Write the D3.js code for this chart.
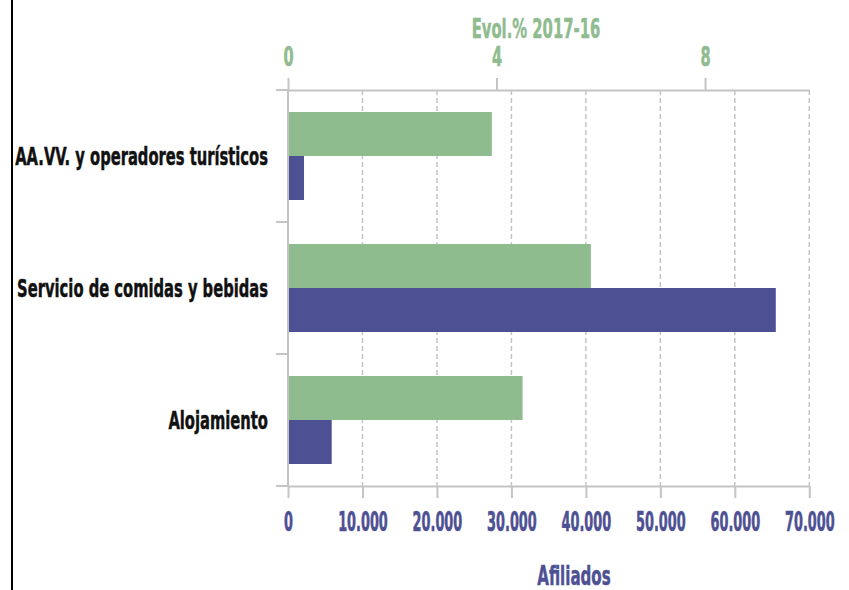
<!DOCTYPE html>
<html>
<head>
<meta charset="utf-8">
<script src="https://cdn.jsdelivr.net/npm/d3@7"></script>
<style>
  html, body { margin: 0; padding: 0; background: #fff; }
  svg { display: block; }
  text { font-family: "DejaVu Sans Condensed", "Liberation Sans Narrow", "Liberation Sans", sans-serif; font-weight: bold; }
</style>
</head>
<body>
<svg id="chart" width="849" height="590"></svg>
<script>
const categories = ["AA.VV. y operadores turísticos", "Servicio de comidas y bebidas", "Alojamiento"];
const evolValues = [3.91, 5.81, 4.50];
const afiliadosValues = [2150, 65500, 5870];
const evolTicks = [0, 4, 8];
const afiliadosTicks = [0, 10000, 20000, 30000, 40000, 50000, 60000, 70000];
const evolTitle = "Evol.% 2017-16";
const afiliadosTitle = "Afiliados";

(function () {
const GREEN = "#8fbc8f";
const PURPLE = "#4e5094";
const AXIS = "#c4c4c4";

const svg = d3.select("#chart");
const pLeft = 288, pRight = 809.3, pTop = 90, pBottom = 486;

const xAfil = d3.scaleLinear().domain([0, 70000]).range([pLeft, pRight]);
const xEvol = d3.scaleLinear().domain([0, 10]).range([pLeft, pRight]);
const y = d3.scaleBand().domain(categories).range([pTop, pBottom]).padding(0);
const ySub = d3.scaleBand().domain(["evol", "afil"]).range([0, y.bandwidth()]).paddingInner(0).paddingOuter(0.5);

const loc = d3.formatLocale({decimal: ",", thousands: ".", grouping: [3], currency: ["", ""]});
const fmt = loc.format(",d");

// horizontal condensing about the text's own x anchor
function condense(k) {
  return function (sel) {
    sel.each(function () {
      const t = d3.select(this);
      const x = +t.attr("x") || 0;
      t.attr("x", x / k).attr("transform", `scale(${k},1)`);
    });
  };
}

// left border
svg.append("line").attr("x1", 12).attr("x2", 12).attr("y1", 0).attr("y2", 590)
  .attr("stroke", "#000").attr("stroke-width", 2);

// gridlines
svg.append("g").selectAll("line").data(afiliadosTicks.filter(d => d > 0)).join("line")
  .attr("x1", d => xAfil(d)).attr("x2", d => xAfil(d))
  .attr("y1", pTop).attr("y2", pBottom)
  .attr("stroke", AXIS).attr("stroke-width", 1.5).attr("stroke-dasharray", "5,3");

// bars
const groups = svg.append("g").selectAll("g").data(categories).join("g")
  .attr("transform", d => `translate(0,${y(d)})`);
groups.append("rect")
  .attr("x", xEvol(0)).attr("y", ySub("evol"))
  .attr("width", (d, i) => xEvol(evolValues[i]) - xEvol(0))
  .attr("height", ySub.bandwidth()).attr("fill", GREEN);
groups.append("rect")
  .attr("x", xAfil(0)).attr("y", ySub("afil"))
  .attr("width", (d, i) => xAfil(afiliadosValues[i]) - xAfil(0))
  .attr("height", ySub.bandwidth()).attr("fill", PURPLE);

// left axis line + boundary ticks
svg.append("line").attr("x1", pLeft).attr("x2", pLeft).attr("y1", pTop).attr("y2", pBottom)
  .attr("stroke", AXIS).attr("stroke-width", 2);
const bounds = categories.map(c => y(c)).concat([pBottom]);
svg.append("g").selectAll("line").data(bounds).join("line")
  .attr("x1", pLeft - 12).attr("x2", pLeft).attr("y1", d => d).attr("y2", d => d)
  .attr("stroke", AXIS).attr("stroke-width", 2);

// category labels
svg.append("g").selectAll("text").data(categories).join("text")
  .attr("x", 268).attr("y", d => y(d) + y.bandwidth() / 2 + 9)
  .attr("text-anchor", "end").attr("font-size", 25).attr("fill", "#111")
  .attr("stroke", "#111").attr("stroke-width", 0.5)
  .text(d => d).call(condense(0.655));

// bottom axis
const bAxis = svg.append("g").attr("transform", `translate(0,${pBottom})`)
  .call(d3.axisBottom(xAfil).tickValues(afiliadosTicks).tickFormat(fmt).tickSizeInner(12).tickSizeOuter(0).tickPadding(14));
bAxis.attr("font-family", null);
bAxis.select(".domain").attr("stroke", AXIS).attr("stroke-width", 2);
bAxis.selectAll(".tick line").attr("stroke", AXIS).attr("stroke-width", 2);
bAxis.selectAll(".tick text").attr("fill", PURPLE).attr("font-size", 27)
  .attr("stroke", PURPLE).attr("stroke-width", 0.6).call(condense(0.53));

// top axis
const tAxis = svg.append("g").attr("transform", `translate(0,${pTop})`)
  .call(d3.axisTop(xEvol).tickValues(evolTicks).tickFormat(d3.format("d")).tickSizeInner(12).tickSizeOuter(0).tickPadding(12));
tAxis.attr("font-family", null);
tAxis.select(".domain").attr("stroke", AXIS).attr("stroke-width", 2);
tAxis.selectAll(".tick line").attr("stroke", AXIS).attr("stroke-width", 2);
tAxis.selectAll(".tick text").attr("fill", GREEN).attr("font-size", 27)
  .attr("stroke", GREEN).attr("stroke-width", 0.6).call(condense(0.6));

// titles
svg.append("text").attr("x", 536).attr("y", 38).attr("text-anchor", "middle")
  .attr("font-size", 27).attr("fill", GREEN).attr("stroke", GREEN).attr("stroke-width", 0.5)
  .text(evolTitle).call(condense(0.61));
svg.append("text").attr("x", 574).attr("y", 585).attr("text-anchor", "middle")
  .attr("font-size", 27).attr("fill", PURPLE).attr("stroke", PURPLE).attr("stroke-width", 0.5)
  .text(afiliadosTitle).call(condense(0.62));
})();
</script>
</body>
</html>
